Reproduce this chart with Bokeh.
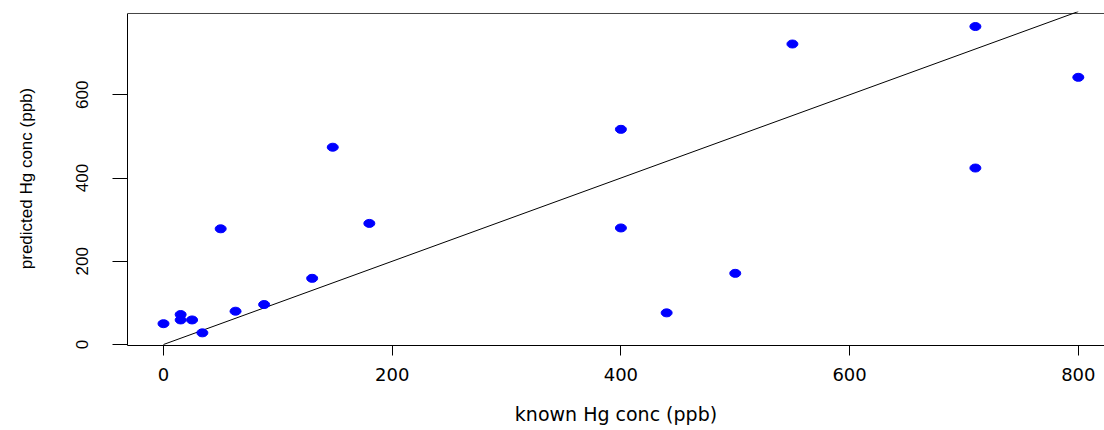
from bokeh.plotting import figure
from bokeh.models import Range1d, FixedTicker
from bokeh.embed import file_html
from bokeh.resources import INLINE

# data: known vs predicted Hg concentration (ppb)
known = [0, 15, 15, 25, 34, 50, 63, 88, 130, 148, 180, 400, 400, 440, 500, 550, 710, 710, 800]
predicted = [50, 72, 59, 59, 28, 278, 80, 96, 159, 474, 291, 517, 280, 76, 171, 722, 764, 424, 642]
line_x = [0, 800]
line_y = [0, 800]
x_ticks = [0, 200, 400, 600, 800]
y_ticks = [0, 200, 400, 600]
x_title = "known Hg conc (ppb)"
y_title = "predicted Hg conc (ppb)"

X0, X1 = -31.48, 822.9
Y0, Y1 = -2.4, 800.1
BOX_TOP = 795.3

p = figure(width=1104, height=430, output_backend="svg", toolbar_location=None,
           x_range=Range1d(X0, X1), y_range=Range1d(Y0, Y1),
           min_border_left=127, min_border_right=0, min_border_top=11, min_border_bottom=85)
p.outline_line_color = None
p.grid.visible = False
p.background_fill_color = "white"
p.border_fill_color = "white"

# box top line
p.segment(x0=[X0], y0=[BOX_TOP], x1=[X1], y1=[BOX_TOP], line_color="#444444", line_width=1)

# identity line
p.line(line_x, line_y, line_color="black", line_width=1)

# points
p.ellipse(x=known, y=predicted, width=11, height=8, width_units="screen", height_units="screen",
          fill_color="#0000ff", line_color="#0000ff")

xa = p.xaxis[0]
xa.ticker = FixedTicker(ticks=x_ticks)
xa.minor_tick_line_color = None
xa.major_tick_in = 0
xa.major_tick_out = 10
xa.axis_line_color = "black"
xa.major_tick_line_color = "black"
xa.major_label_text_font = "DejaVu Sans"
xa.major_label_text_font_size = "18px"
xa.major_label_text_color = "black"
xa.major_label_standoff = 12
xa.axis_label = x_title
xa.axis_label_text_font = "DejaVu Sans"
xa.axis_label_text_font_size = "19px"
xa.axis_label_text_font_style = "normal"
xa.axis_label_text_color = "black"
xa.axis_label_standoff = 19

ya = p.yaxis[0]
ya.ticker = FixedTicker(ticks=y_ticks)
ya.bounds = (Y0, BOX_TOP)
ya.minor_tick_line_color = None
ya.major_tick_in = 0
ya.major_tick_out = 15
ya.axis_line_color = "black"
ya.major_tick_line_color = "black"
ya.major_label_orientation = "vertical"
ya.major_label_text_font = "Liberation Sans"
ya.major_label_text_font_size = "17px"
ya.major_label_text_color = "black"
ya.major_label_standoff = 24
ya.axis_label = y_title
ya.axis_label_text_font = "Liberation Sans"
ya.axis_label_text_font_size = "17px"
ya.axis_label_text_font_style = "normal"
ya.axis_label_text_color = "black"
ya.axis_label_standoff = 38

open("out.html", "w").write(file_html(p, INLINE))
